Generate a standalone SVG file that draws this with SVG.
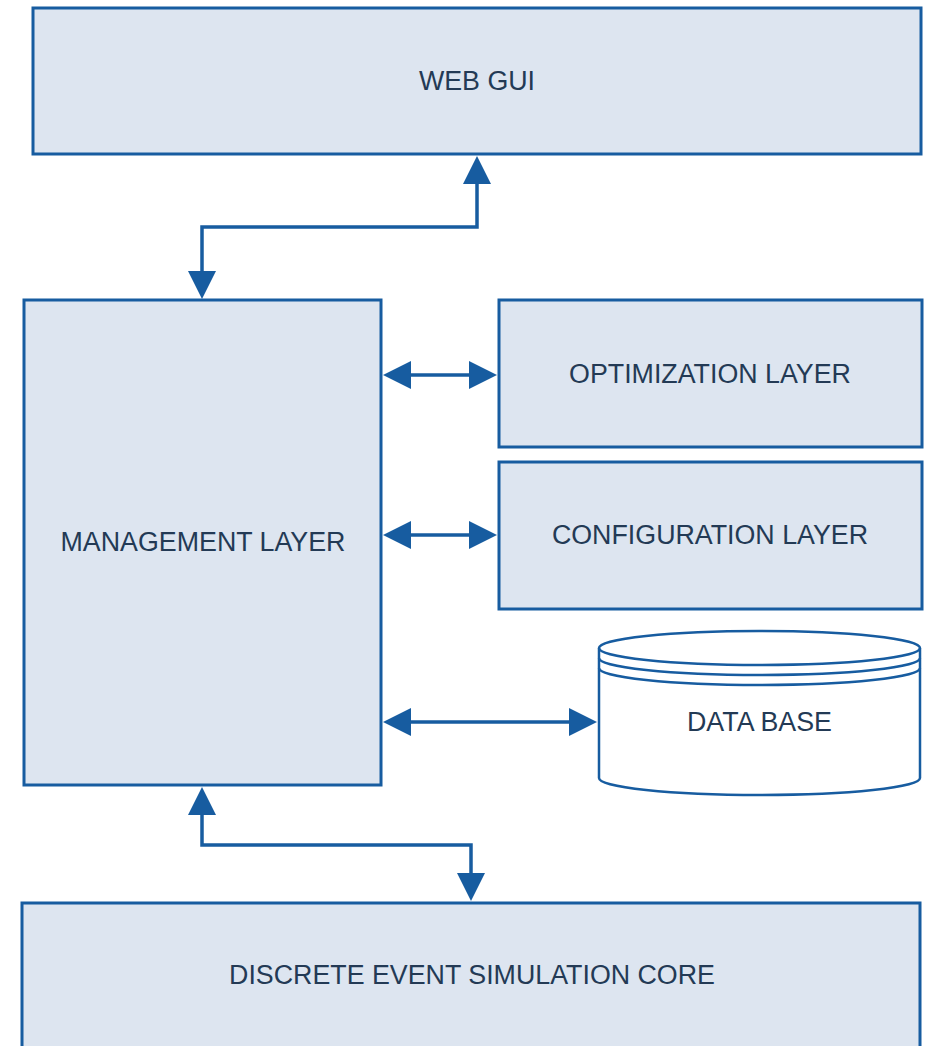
<svg xmlns="http://www.w3.org/2000/svg" width="930" height="1046" viewBox="0 0 930 1046">
<style>
.box{fill:#dde5f0;stroke:#175ca0;stroke-width:3}
.db{fill:#ffffff;stroke:#175ca0;stroke-width:2.5}
.lbl{font-family:"Liberation Sans",Arial,sans-serif;font-size:26.8px;fill:#233a55;text-anchor:middle}
.conn{fill:none;stroke:#175ca0;stroke-width:3.5}
</style>
<defs>
<marker id="arr" markerUnits="userSpaceOnUse" markerWidth="28" markerHeight="32" viewBox="0 0 28 32" refX="24" refY="16" orient="auto-start-reverse">
<path d="M0,2 L28,16 L0,30 z" fill="#175ca0"/>
</marker>
</defs>
<rect width="930" height="1046" fill="#ffffff"/>
<g id="web-gui">
<rect class="box" x="33" y="8" width="888" height="146"/>
<text class="lbl" x="477" y="90">WEB GUI</text>
</g>
<g id="management-layer">
<rect class="box" x="24" y="300" width="357" height="485"/>
<text class="lbl" x="203" y="551">MANAGEMENT LAYER</text>
</g>
<g id="optimization-layer">
<rect class="box" x="499" y="300" width="423" height="147"/>
<text class="lbl" x="710" y="383">OPTIMIZATION LAYER</text>
</g>
<g id="configuration-layer">
<rect class="box" x="499" y="462" width="423" height="147"/>
<text class="lbl" x="710" y="544">CONFIGURATION LAYER</text>
</g>
<g id="data-base">
<path class="db" d="M599,648 A160.5,17 0 0 1 920,648 L920,778 A160.5,17 0 0 1 599,778 Z"/>
<path class="db" d="M599,648 A160.5,17 0 0 0 920,648 M599,658 A160.5,17 0 0 0 920,658 M599,668 A160.5,17 0 0 0 920,668" style="fill:none"/>
<text class="lbl" x="759.5" y="731">DATA BASE</text>
</g>
<g id="des-core">
<rect class="box" x="22" y="903" width="898" height="160"/>
<text class="lbl" x="472" y="984">DISCRETE EVENT SIMULATION CORE</text>
</g>
<g id="connectors">
<path class="conn" d="M202,295 L202,227 L477,227 L477,160" marker-start="url(#arr)" marker-end="url(#arr)"/>
<path class="conn" d="M387,375 L493,375" marker-start="url(#arr)" marker-end="url(#arr)"/>
<path class="conn" d="M387,535 L493,535" marker-start="url(#arr)" marker-end="url(#arr)"/>
<path class="conn" d="M387,722 L593,722" marker-start="url(#arr)" marker-end="url(#arr)"/>
<path class="conn" d="M202,791 L202,845 L471,845 L471,897" marker-start="url(#arr)" marker-end="url(#arr)"/>
</g>
</svg>
